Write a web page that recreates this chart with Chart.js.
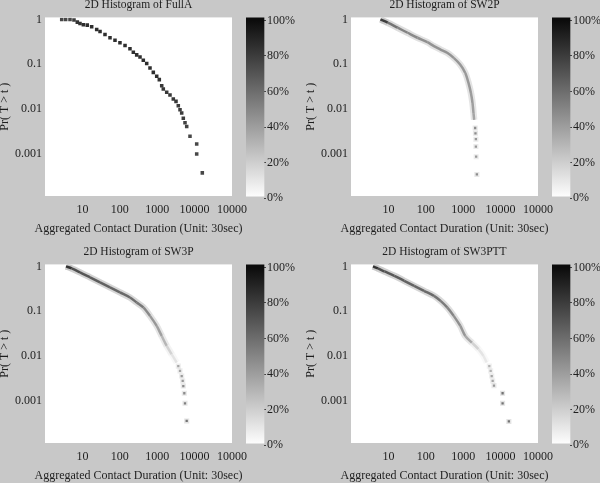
<!DOCTYPE html>
<html>
<head>
<meta charset="utf-8">
<script src="https://cdn.jsdelivr.net/npm/chart.js@4.4.1/dist/chart.umd.min.js"></script>
<style>
  html, body { margin: 0; padding: 0; background: #c8c8c8; width: 600px; height: 483px; overflow: hidden; }
  canvas { position: absolute; }
</style>
</head>
<body>
<canvas id="main1" width="277" height="240" style="left:0px;top:0px"></canvas>
<canvas id="bar1" width="50" height="240" style="left:246px;top:0px"></canvas>
<canvas id="main2" width="277" height="240" style="left:306px;top:0px"></canvas>
<canvas id="bar2" width="50" height="240" style="left:552px;top:0px"></canvas>
<canvas id="main3" width="277" height="240" style="left:0px;top:247px"></canvas>
<canvas id="bar3" width="50" height="240" style="left:246px;top:247px"></canvas>
<canvas id="main4" width="277" height="240" style="left:306px;top:247px"></canvas>
<canvas id="bar4" width="50" height="240" style="left:552px;top:247px"></canvas>
<script>
// axis ticks
const xTickVals = [10, 100, 1000, 10000, 100000];
const xTickLabels = ['10', '100', '1000', '10000', '10000'];
const yTickVals = [1, 0.1, 0.01, 0.001];
const yTickLabels = ['1', '0.1', '0.01', '0.001'];
const cbTicks = [0, 20, 40, 60, 80, 100];
const cbRange = [1, 101.5];

const xTitle = 'Aggregated Contact Duration (Unit: 30sec)';
const yTitle = 'Pr( T > t )';

// FullA: individual histogram cells
const fullX = [2.8, 3.57, 4.66, 5.96, 7.31, 8.63, 10.6, 13.5, 17.7, 24.1, 29.6, 40.2, 54.7, 74.4, 101, 138, 187, 230, 283, 347, 425, 524, 642, 787, 970, 1138, 1320, 1456, 1795, 2198, 2694, 3184, 3665, 4074, 4520, 4990, 5540, 6150, 7530, 11380, 11380, 16070];
const fullY = [1, 1, 1, 0.965, 0.87, 0.814, 0.761, 0.746, 0.687, 0.597, 0.539, 0.462, 0.39, 0.344, 0.301, 0.262, 0.221, 0.186, 0.162, 0.146, 0.123, 0.104, 0.083, 0.066, 0.054, 0.0455, 0.0334, 0.0282, 0.0237, 0.0207, 0.0168, 0.0149, 0.0119, 0.0097, 0.0082, 0.0063, 0.005, 0.0041, 0.0025, 0.00168, 0.001, 0.00038];
const fullShade = [72, 72, 72, 76, 80, 80, 82, 82, 82, 82, 82, 82, 82, 82, 82, 82, 82, 82, 82, 82, 82, 82, 82, 82, 82, 80, 78, 78, 78, 78, 78, 78, 76, 76, 76, 76, 74, 74, 72, 72, 72, 72];

// SW2P
const sw2X = [6.14, 9.6, 17.7, 32.6, 60, 110, 165, 248, 373, 557, 838, 1137, 1390, 1607, 1775, 1884, 1966];
const sw2Y = [1, 0.844, 0.652, 0.504, 0.39, 0.31, 0.253, 0.213, 0.18, 0.139, 0.098, 0.064, 0.038, 0.0229, 0.0137, 0.0082, 0.0058];
const sw2Shade = [85, 62, 55, 52, 50, 48, 48, 48, 48, 46, 46, 45, 45, 44, 42, 40, 36];
const sw2DotX = [2089, 2128, 2181, 2181, 2221, 2317];
const sw2DotY = [0.0038, 0.0029, 0.00214, 0.00147, 0.00087, 0.00035];
const sw2DotShade = [45, 45, 40, 40, 40, 45];

// SW3P
const sw3X = [3.64, 5.17, 8.63, 16, 29.6, 54.7, 101, 187, 283, 425, 642, 970, 1320, 1795, 2443, 3320];
const sw3Y = [1, 0.9, 0.735, 0.568, 0.439, 0.34, 0.263, 0.203, 0.157, 0.122, 0.079, 0.047, 0.0282, 0.0169, 0.011, 0.0072];
const sw3Shade = [90, 78, 74, 72, 70, 68, 66, 64, 60, 52, 46, 42, 32, 20, 12, 8];
const sw3DotX = [3665, 4074, 4520, 4810, 4990, 5310, 5540, 6150];
const sw3DotY = [0.006, 0.0047, 0.0036, 0.0028, 0.00216, 0.00149, 0.00089, 0.00036];
const sw3DotShade = [35, 35, 40, 40, 45, 45, 50, 55];

// SW3PTT
const sw3tX = [3.87, 5.24, 7.85, 14.4, 26.5, 48.7, 89.6, 165, 248, 373, 557, 838, 1137, 1710, 2553, 3467, 4266];
const sw3tY = [1, 0.9, 0.773, 0.617, 0.477, 0.369, 0.285, 0.221, 0.171, 0.122, 0.079, 0.047, 0.028, 0.02, 0.0143, 0.0101, 0.0072];
const sw3tShade = [90, 78, 74, 72, 70, 68, 66, 62, 58, 54, 50, 46, 38, 20, 12, 10, 8];
const sw3tDotX = [4990, 5430, 5780, 6140, 6650, 11300, 11300, 16600];
const sw3tDotY = [0.006, 0.0047, 0.0036, 0.0028, 0.0022, 0.00149, 0.00089, 0.00035];
const sw3tDotShade = [30, 30, 35, 35, 40, 55, 55, 55];

const font = { family: 'Liberation Serif', size: 12, weight: 'normal' };
const titleFont = { family: 'Liberation Serif', size: 11.5, weight: 'normal' };
const textColor = '#1e1e1e';

function gray(s, a = 1) {
  const v = Math.round(255 * (1 - s / 100));
  return `rgba(${v},${v},${v},${a})`;
}

function pts(xs, ys) {
  return xs.map((x, i) => ({ x: x, y: ys[i] }));
}

const plotBg = {
  id: 'plotBg',
  beforeDraw(chart) {
    const a = chart.chartArea;
    chart.ctx.save();
    chart.ctx.fillStyle = '#ffffff';
    chart.ctx.fillRect(a.left, a.top, a.right - a.left, a.bottom - a.top);
    chart.ctx.restore();
  }
};

function makePanel(id, title, band, dots, dotRadius, haloDots) {
  const datasets = [];
  if (dots) {
    datasets.push({
      data: pts(dots.x, dots.y),
      pointStyle: 'rect',
      pointRadius: dotRadius,
      pointBorderWidth: 0,
      backgroundColor: dots.s.map(s => gray(s)),
      showLine: false
    });
    if (haloDots) {
      datasets.push({
        data: pts(dots.x, dots.y),
        pointStyle: 'rect',
        pointRadius: 3.6,
        pointBorderWidth: 0,
        backgroundColor: dots.s.map(s => gray(s, 0.2)),
        showLine: false
      });
    }
  }
  if (band) {
    datasets.push({
      data: pts(band.x, band.y),
      showLine: true,
      pointRadius: 0,
      borderWidth: 2.5,
      tension: 0.3,
      borderColor: gray(50),
      segment: { borderColor: c => gray(band.s[c.p0DataIndex], 0.85) }
    });
    datasets.push({
      data: pts(band.x, band.y),
      showLine: true,
      pointRadius: 0,
      borderWidth: 6.5,
      tension: 0.3,
      borderColor: gray(40, 0.22),
      segment: { borderColor: c => gray(band.s[c.p0DataIndex], 0.24) }
    });
  }

  new Chart(document.getElementById(id), {
    type: 'scatter',
    data: { datasets },
    plugins: [plotBg],
    options: {
      responsive: false,
      animation: false,
      plugins: {
        legend: { display: false },
        tooltip: { enabled: false },
        title: { display: true, text: title, font: titleFont, color: textColor, padding: { top: -2, bottom: 5.6 } },
        // x axis title, laid out full width so it is not squeezed
        subtitle: { display: true, position: 'bottom', text: xTitle, font, color: textColor, padding: { top: 4.8, bottom: 3.8 } }
      },
      scales: {
        x: {
          type: 'logarithmic', min: 1, max: 100000,
          grid: { display: false, drawTicks: false, tickLength: 0 },
          border: { display: false },
          afterBuildTicks: s => { s.ticks = xTickVals.map(v => ({ value: v })); },
          afterFit: s => { s.height = 21; },
          ticks: { callback: (v, i) => xTickLabels[i], padding: 7, font, color: textColor, maxRotation: 0, autoSkip: false }
        },
        y: {
          type: 'logarithmic', min: 1.16e-4, max: 1.108,
          grid: { display: false, drawTicks: false, tickLength: 0 },
          border: { display: false },
          afterBuildTicks: s => { s.ticks = yTickVals.map(v => ({ value: v })); },
          afterFit: s => { s.width = 45; },
          ticks: { callback: (v, i) => yTickLabels[i], padding: 3, font, color: textColor, autoSkip: false },
          title: { display: true, text: yTitle, font, color: textColor, padding: { top: -2, bottom: 4 } }
        },
        // empty right-hand axis: keeps the plot symmetric under the titles
        yr: {
          position: 'right', min: 0, max: 1,
          grid: { display: false, drawTicks: false, tickLength: 0 },
          border: { display: false },
          ticks: { display: false },
          afterFit: s => { s.width = 45; }
        }
      }
    }
  });
}

function makeColorbar(id) {
  new Chart(document.getElementById(id), {
    type: 'bar',
    data: {
      labels: [''],
      datasets: [{
        data: [cbRange],
        borderWidth: 0,
        barPercentage: 1,
        categoryPercentage: 1,
        clip: 6,
        backgroundColor: c => {
          const ch = c.chart;
          if (!ch.chartArea) return '#888';
          const y = ch.scales.y;
          const g = ch.ctx.createLinearGradient(0, y.getPixelForValue(0), 0, y.getPixelForValue(100));
          g.addColorStop(0, '#ffffff');
          g.addColorStop(1, '#0c0c0c');
          return g;
        }
      }]
    },
    options: {
      responsive: false,
      animation: false,
      layout: { padding: { top: 20.5, bottom: 42, left: 0, right: 0 } },
      plugins: { legend: { display: false }, tooltip: { enabled: false } },
      scales: {
        x: { display: false },
        y: {
          position: 'right', min: 0, max: 100,
          afterBuildTicks: s => { s.ticks = cbTicks.map(v => ({ value: v })); },
          afterFit: s => { s.width = 32; },
          grid: { drawOnChartArea: false, drawTicks: true, tickLength: 2, color: '#444' },
          border: { display: false },
          ticks: { callback: (v, i) => cbTicks[i] + '%', padding: 1, font, color: textColor, autoSkip: false }
        }
      }
    }
  });
}

makePanel('main1', '2D Histogram of FullA', null, { x: fullX, y: fullY, s: fullShade }, 2.5, false);
makePanel('main2', '2D Histogram of SW2P', { x: sw2X, y: sw2Y, s: sw2Shade }, { x: sw2DotX, y: sw2DotY, s: sw2DotShade }, 1.6, true);
makePanel('main3', '2D Histogram of SW3P', { x: sw3X, y: sw3Y, s: sw3Shade }, { x: sw3DotX, y: sw3DotY, s: sw3DotShade }, 1.6, true);
makePanel('main4', '2D Histogram of SW3PTT', { x: sw3tX, y: sw3tY, s: sw3tShade }, { x: sw3tDotX, y: sw3tDotY, s: sw3tDotShade }, 1.6, true);
['bar1', 'bar2', 'bar3', 'bar4'].forEach(makeColorbar);
</script>
</body>
</html>
